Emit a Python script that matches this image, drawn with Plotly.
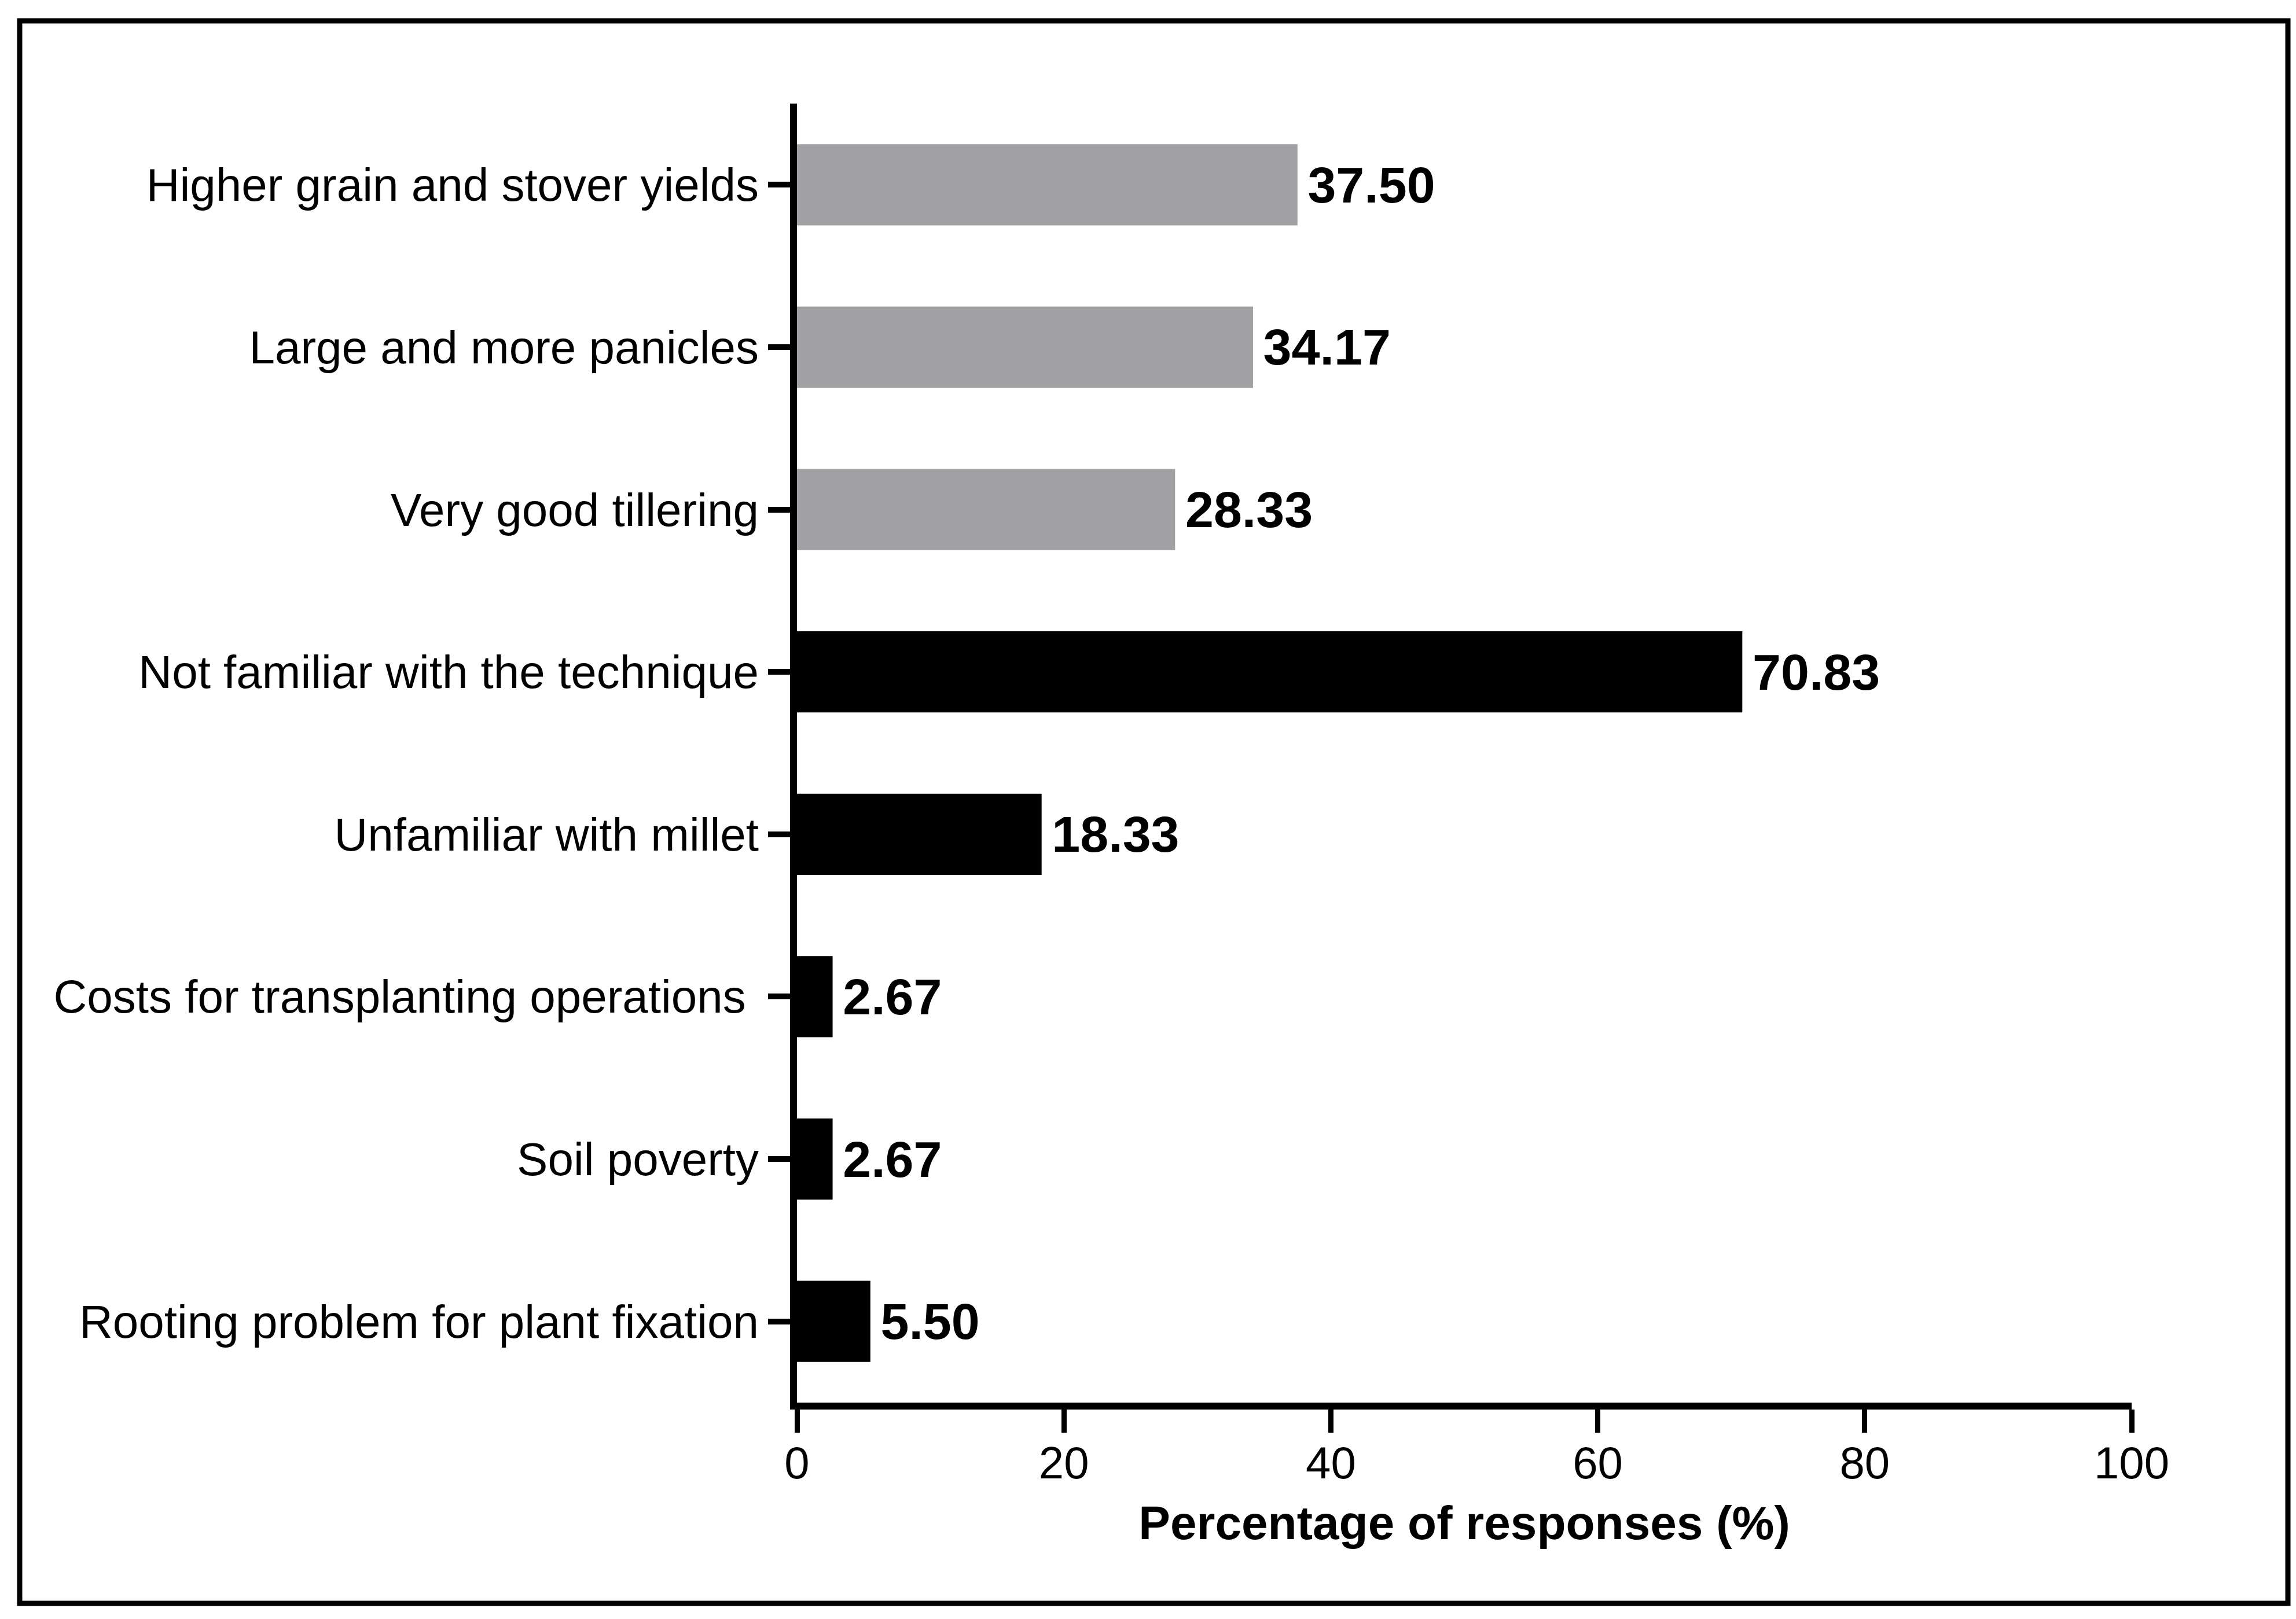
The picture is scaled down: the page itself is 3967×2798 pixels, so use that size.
import plotly.graph_objects as go

categories = [
    "Higher grain and stover yields",
    "Large and more panicles",
    "Very good tillering",
    "Not familiar with the technique",
    "Unfamiliar with millet",
    "Costs for transplanting operations\u00a0",
    "Soil poverty",
    "Rooting problem for plant fixation",
]
values = [37.50, 34.17, 28.33, 70.83, 18.33, 2.67, 2.67, 5.50]
groups = ["Advantage", "Advantage", "Advantage",
          "Constraint", "Constraint", "Constraint", "Constraint", "Constraint"]
x_ticks = [0, 20, 40, 60, 80, 100]
x_title = "Percentage of responses (%)"

group_colors = {"Advantage": "#A1A1A4", "Constraint": "#000000"}

W, H = 3967, 2798
L, R, T, B = 1369, 292, 171, 382

fig = go.Figure()
for g in ["Advantage", "Constraint"]:
    ys = [c for c, gg in zip(categories, groups) if gg == g]
    xs = [v for v, gg in zip(values, groups) if gg == g]
    fig.add_trace(go.Bar(
        y=ys, x=xs, orientation="h", name=g,
        marker=dict(color=group_colors[g], line=dict(width=0)),
        width=0.5,
        texttemplate="\u2006%{x:.2f}", textposition="outside",
        textfont=dict(family="Liberation Sans, Arial", size=88, color="black", weight="bold"),
        cliponaxis=False, showlegend=False,
    ))

fig.update_layout(
    width=W, height=H,
    margin=dict(l=L, r=R, t=T, b=B),
    paper_bgcolor="white", plot_bgcolor="white",
    barmode="overlay",
    font=dict(family="Liberation Sans, Arial", color="black"),
    showlegend=False,
)
fig.update_yaxes(
    categoryorder="array", categoryarray=categories, autorange=False,
    range=[7.5, -0.5],
    showline=True, linecolor="black", linewidth=12,
    ticks="outside", ticklen=38, tickwidth=10, tickcolor="black",
    tickfont=dict(size=80, color="black"),
    showgrid=False, zeroline=False,
)
fig.update_xaxes(
    range=[0, 100], tickvals=x_ticks,
    showline=True, linecolor="black", linewidth=12,
    ticks="outside", ticklen=40, tickwidth=9, tickcolor="black",
    tickfont=dict(size=78, color="black"),
    ticklabelstandoff=-15,
    showgrid=False, zeroline=False,
    title=dict(text="<b>" + x_title + "</b>", font=dict(size=82, color="black"), standoff=37),
)

pw = W - L - R
ph = H - T - B
def px_x(p):
    return (p - L) / pw
def px_y(p):
    return (H - B - p) / ph

fig.add_shape(type="rect", xref="paper", yref="paper",
              x0=px_x(26), x1=px_x(3945), y0=px_y(2763), y1=px_y(28),
              line=dict(color="black", width=9), fillcolor="rgba(0,0,0,0)", layer="below")

fig.write_html("out.html")
